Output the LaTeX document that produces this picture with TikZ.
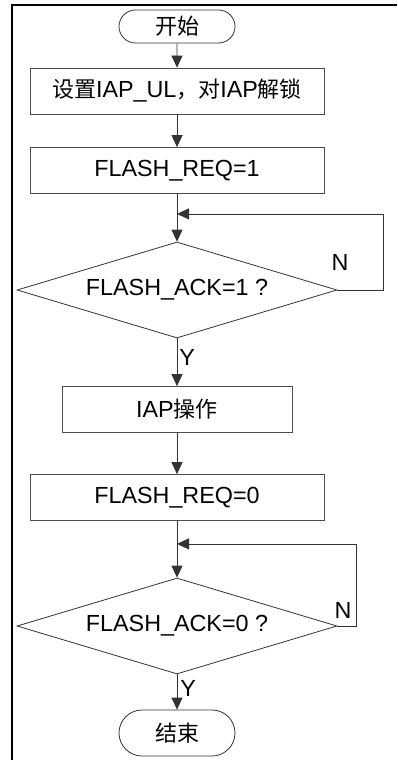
\documentclass[tikz,border=0pt]{standalone}
\usepackage{fontspec}
\setmainfont[Scale=1.06]{Liberation Sans}
\newfontfamily\cjk{Noto Sans CJK SC}
\usetikzlibrary{arrows.meta, shapes, positioning}

\begin{document}
\begin{tikzpicture}[x=1pt,y=-1pt,->,>={Triangle[length=12pt,width=11pt]},line width=0.8pt,draw=black!80,
	font=\fontsize{22}{26}\selectfont,
	main node/.style={rectangle,draw=black!70,minimum width=294pt,minimum height=46pt,inner sep=0pt},
	end node/.style={rounded rectangle,draw=black!80,minimum width=116pt,inner sep=0pt},
	test node/.style={diamond,draw=black!80,aspect=3.3,minimum width=320pt,minimum height=96pt,inner sep=0pt}]
	\useasboundingbox (0,0) rectangle (397,760);
	\draw[-,line width=2pt,black] (12,760) -- (12,5) -- (397,5);
	
	% Nodos del diagrama
	\node[end node,minimum height=33pt] (1) at (177,26.5) {\cjk 开始};
	\node[main node,node distance=64.5pt] (2) [below of=1] {{\cjk 设置}IAP\_UL{\cjk ，对}IAP{\cjk 解锁}};
	\node[main node,node distance=79.5pt] (3) [below of=2] {FLASH\_REQ=1};
	\node[test node,node distance=119.5pt] (4) [below of=3] {FLASH\_ACK=1 ?};
	\node[main node,minimum width=230pt,node distance=119.5pt] (5) [below of=4] {IAP{\cjk 操作}};
	\node[main node,node distance=88pt] (6) [below of=5] {FLASH\_REQ=0};
	\node[test node,node distance=128.5pt] (7) [below of=6] {FLASH\_ACK=0 ?};
	\node[end node,minimum height=46pt,node distance=107pt] (8) [below of=7] {\cjk 结束};
	
	% Puntos de retorno
	\coordinate[below=20pt of 3] (j1);
	\coordinate[below=23pt of 6] (j2);
	
	% Conexiones
	\path
	(1) edge (2)
	(2) edge (3)
	(3) edge (4)
	(4) edge node[pos=.4,right,inner sep=2pt] {Y} (5)
	(5) edge (6)
	(6) edge (7)
	(7) edge node[pos=.4,right,inner sep=3pt] {Y} (8);
	% Bucles de espera
	\draw (4.east) -- ++(46,0) |- (j1);
	\draw (7.east) -- ++(19,0) |- (j2);
	\node (n1) at (340,262) {N};
	\node (n2) at (343,610) {N};
\end{tikzpicture}
\end{document}
